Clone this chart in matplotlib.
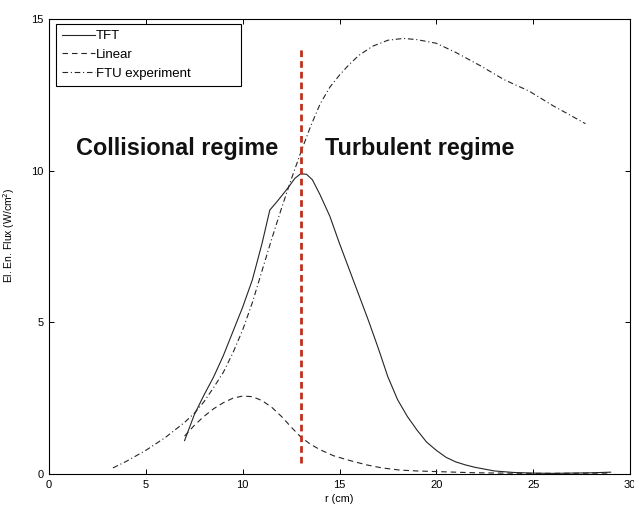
import matplotlib
matplotlib.use("Agg")
from matplotlib import pyplot as plt

# TFT / Linear / FTU experiment: electron energy flux vs r
tft_r = [7.0, 7.5, 8.0, 8.5, 9.0, 9.5, 10.0, 10.5, 11.0, 11.4, 11.8, 12.3, 12.7, 13.0, 13.3,
         13.6, 14.0, 14.5, 15.0, 15.5, 16.0, 16.5, 17.0, 17.5, 18.0, 18.5, 19.0, 19.5, 20.0,
         20.5, 21.0, 21.5, 22.0, 23.0, 24.0, 25.0, 26.0, 27.0, 28.0, 29.0]
tft_y = [1.1, 1.95, 2.6, 3.2, 3.9, 4.7, 5.5, 6.4, 7.6, 8.7, 9.0, 9.4, 9.75, 9.9, 9.88,
         9.7, 9.2, 8.5, 7.6, 6.75, 5.9, 5.05, 4.15, 3.2, 2.45, 1.9, 1.45, 1.05, 0.78,
         0.55, 0.4, 0.3, 0.22, 0.1, 0.05, 0.03, 0.02, 0.03, 0.04, 0.06]

linear_r = [7.0, 7.5, 8.0, 8.5, 9.0, 9.5, 10.0, 10.5, 11.0, 11.5, 12.0, 12.5, 13.0, 13.5,
            14.0, 14.7, 15.5, 16.4, 17.2, 18.1, 19.0, 20.0, 22.0, 25.0, 29.0]
linear_y = [1.25, 1.6, 1.9, 2.15, 2.35, 2.5, 2.57, 2.55, 2.42, 2.2, 1.9, 1.55, 1.22, 0.98,
            0.8, 0.6, 0.45, 0.3, 0.2, 0.13, 0.1, 0.08, 0.04, 0.02, 0.03]

ftu_r = [3.3, 4.0, 5.0, 6.0, 7.0, 7.5, 8.0, 8.5, 9.0, 9.5, 10.0, 10.5, 11.0, 11.5, 12.0,
         12.5, 13.0, 13.5, 14.0, 14.5, 15.0, 15.5, 16.0, 16.7, 17.5, 18.3, 19.0, 20.0,
         21.0, 22.3, 23.5, 24.8, 26.0, 27.7]
ftu_y = [0.2, 0.42, 0.78, 1.2, 1.7, 2.0, 2.38, 2.85, 3.35, 4.0, 4.75, 5.65, 6.7, 7.75, 8.75,
         9.7, 10.6, 11.45, 12.2, 12.75, 13.15, 13.5, 13.8, 14.1, 14.3, 14.36, 14.32, 14.2,
         13.9, 13.45, 13.0, 12.62, 12.15, 11.55]

boundary_r = 13.0
boundary_span = [0.35, 14.0]

series_labels = ["TFT", "Linear", "FTU experiment"]
region_labels = ["Collisional regime", "Turbulent regime"]

x_ticks = [0, 5, 10, 15, 20, 25, 30]
y_ticks = [0, 5, 10, 15]


def main():
    plt.rcParams['font.family'] = ['Liberation Sans', 'DejaVu Sans']

    fig = plt.figure(figsize=(6.34, 5.08), dpi=100)
    ax = fig.add_axes([49 / 634, 34 / 508, 581 / 634, 455 / 508])

    lc = '#252525'
    ax.plot(tft_r, tft_y, '-', color=lc, lw=0.8, label=series_labels[0])
    ax.plot(linear_r, linear_y, '--', color=lc, lw=0.8, dashes=(5, 3.5), label=series_labels[1])
    ax.plot(ftu_r, ftu_y, '-.', color=lc, lw=0.8, dashes=(5, 2.5, 1, 2.5), label=series_labels[2])

    # boundary between the two regimes
    ax.plot([boundary_r, boundary_r], boundary_span, color='#c0301c', lw=2.0, dashes=(2.4, 1.45))

    ax.text(1.39, 10.52, region_labels[0], fontsize=16.9, fontweight='bold', color='#111111')
    ax.text(14.25, 10.52, region_labels[1], fontsize=16.8, fontweight='bold', color='#111111')

    ax.set_xlim(0, 30)
    ax.set_ylim(0, 15)
    ax.set_xticks(x_ticks)
    ax.set_yticks(y_ticks)
    ax.tick_params(direction='in', length=3.6, width=0.7, labelsize=8,
                   top=True, right=True, pad=4)
    for s in ax.spines.values():
        s.set_linewidth(0.8)

    ax.set_xlabel("r (cm)", fontsize=7.8, labelpad=3)
    ax.set_ylabel("El. En. Flux (W/cm$^2$)", fontsize=7.5)
    ax.yaxis.set_label_coords(-0.055, 0.525)

    leg = ax.legend(loc='upper left', bbox_to_anchor=(0.012, 0.853, 0.318, 0.136),
                    mode='expand', borderaxespad=0, fontsize=9.5, handlelength=2.5,
                    handletextpad=0.05, labelspacing=0.5, borderpad=0.45,
                    fancybox=False, framealpha=1)
    leg.get_frame().set_edgecolor('black')
    leg.get_frame().set_linewidth(0.8)

    fig.savefig("out.png", dpi=100)


if __name__ == "__main__":
    main()
